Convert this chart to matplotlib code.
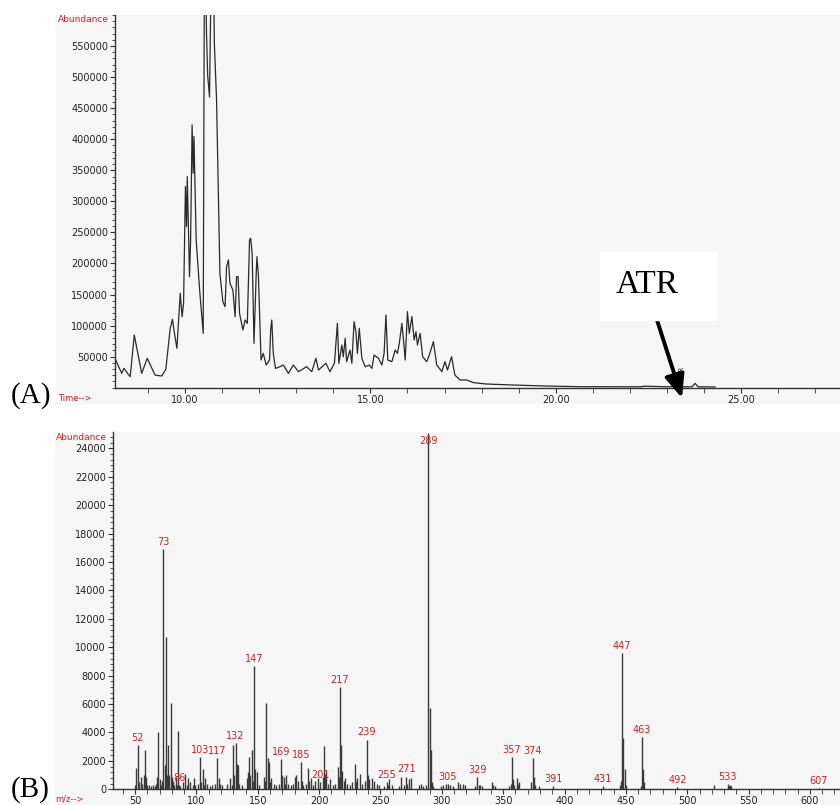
import matplotlib
matplotlib.use("Agg")
import matplotlib.pyplot as plt
from matplotlib.patches import Rectangle
from matplotlib.ticker import MultipleLocator, FormatStrFormatter
import numpy as np

# ---------------------------- data -------------------------------
# (A) total ion chromatogram, time in min, abundance
tic_time = [8.09, 8.29, 8.35, 8.52, 8.63, 8.83, 8.98, 9.19, 9.37, 9.48,
            9.60, 9.66, 9.70, 9.78, 9.87, 9.92, 9.96, 10.01, 10.04, 10.06,
            10.12, 10.15, 10.19, 10.22, 10.24, 10.30, 10.40, 10.49, 10.52, 10.56,
            10.58, 10.61, 10.66, 10.70, 10.77, 10.79, 10.85, 10.90, 10.94, 11.02,
            11.08, 11.12, 11.17, 11.21, 11.29, 11.35, 11.39, 11.43, 11.47, 11.56,
            11.62, 11.68, 11.74, 11.77, 11.81, 11.86, 11.92, 11.94, 11.98, 12.05,
            12.11, 12.19, 12.28, 12.31, 12.34, 12.38, 12.44, 12.56, 12.65, 12.79,
            12.92, 13.06, 13.28, 13.42, 13.53, 13.60, 13.80, 13.91, 14.03, 14.11,
            14.15, 14.23, 14.27, 14.32, 14.36, 14.45, 14.50, 14.56, 14.61, 14.65,
            14.70, 14.77, 14.86, 14.97, 15.04, 15.10, 15.22, 15.31, 15.37, 15.42,
            15.47, 15.58, 15.67, 15.73, 15.78, 15.85, 15.91, 15.94, 16.00, 16.05,
            16.12, 16.18, 16.23, 16.27, 16.34, 16.41, 16.52, 16.59, 16.70, 16.79,
            16.93, 17.01, 17.08, 17.19, 17.28, 17.42, 17.60, 17.78, 18.14, 18.86,
            19.76, 20.66, 21.50, 22.30, 22.40, 23.00, 23.30, 23.38, 23.45, 23.68,
            23.76, 23.84, 24.30]
tic_abund = [49900, 23100, 31100, 17700, 84800, 23100, 47300, 20400, 18800, 29500,
             95600, 110100, 92900, 63400, 152000, 114400, 135900, 323800, 259400, 339900,
             178800, 237900, 423200, 345300, 404400, 237900, 152000, 87500, 650000, 640000,
             568000, 503000, 468000, 650000, 660000, 555000, 463400, 307700, 184200, 138500,
             130500, 194900, 205700, 168100, 157300, 114400, 178800, 178800, 119800, 92900,
             109000, 103600, 237900, 240600, 216400, 71400, 184200, 211000, 178800, 44600,
             55300, 36500, 44600, 92900, 109000, 55300, 31100, 33800, 36500, 23100,
             36500, 25800, 33800, 25800, 47300, 28500, 39200, 25800, 39200, 103600,
             39200, 68700, 49900, 79500, 41900, 60700, 39200, 106300, 90200, 55300,
             95600, 47300, 33800, 36500, 31100, 52600, 47300, 36500, 55300, 117100,
             44600, 41900, 60700, 55300, 71400, 103600, 66100, 44600, 122400, 87500,
             114400, 76800, 90200, 68700, 87500, 49900, 41900, 52600, 74100, 36500,
             25800, 41900, 28500, 49900, 20400, 12400, 12400, 8100, 5900, 4300,
             2700, 1600, 1500, 1500, 2500, 1500, 1800, 3000, 1500, 1500,
             7000, 1500, 1200]

# (B) mass spectrum, m/z and abundance
mz = [50, 51, 52, 53, 55, 56, 57, 58, 59, 60, 61, 63, 65, 66, 67, 68, 69, 70, 71, 72,
      73, 74, 75, 76, 77, 78, 79, 80, 81, 82, 83, 84, 85, 86, 87, 89, 91, 92, 93, 95,
      97, 98, 99, 101, 103, 104, 105, 106, 107, 109, 111, 113, 115, 117, 118, 119, 121, 125, 127, 129,
      130, 131, 132, 133, 134, 135, 137, 141, 142, 143, 144, 145, 146, 147, 148, 149, 151, 155, 156, 157,
      158, 159, 160, 161, 163, 165, 167, 169, 170, 171, 172, 173, 175, 177, 179, 180, 181, 183, 185, 186,
      187, 189, 191, 192, 193, 195, 197, 199, 201, 203, 204, 205, 206, 207, 209, 211, 213, 215, 216, 217,
      218, 219, 220, 221, 223, 225, 227, 229, 230, 231, 233, 235, 237, 239, 240, 241, 243, 245, 247, 249,
      253, 255, 256, 257, 259, 265, 267, 269, 271, 272, 273, 275, 281, 283, 285, 287, 289, 290, 291, 292,
      293, 299, 301, 303, 305, 307, 309, 313, 315, 317, 319, 327, 329, 330, 331, 333, 341, 342, 343, 355,
      356, 357, 358, 359, 361, 362, 363, 373, 374, 375, 376, 379, 391, 431, 445, 446, 447, 448, 449, 450,
      462, 463, 464, 465, 492, 522, 533, 534, 535, 536, 607]
abund = [300, 1500, 3100, 500, 900, 400, 1000, 2800, 900, 300, 300, 200, 300, 200, 400, 900, 4000, 700, 300, 600,
         16900, 1700, 10700, 1000, 3100, 1000, 6050, 900, 600, 300, 900, 300, 4100, 300, 200, 500, 1100, 300, 800, 500,
         300, 800, 300, 400, 2300, 500, 1400, 300, 800, 400, 200, 300, 400, 2200, 800, 400, 300, 400, 800, 300,
         3100, 1000, 3250, 1800, 1700, 400, 300, 800, 1200, 2300, 1000, 2750, 600, 8700, 1400, 1200, 300, 900, 600, 6050,
         2200, 1900, 500, 800, 400, 300, 400, 2100, 1000, 900, 400, 1000, 400, 300, 400, 900, 1000, 600, 1950, 600,
         300, 400, 1500, 600, 800, 300, 600, 800, 500, 900, 3050, 1100, 1200, 400, 700, 300, 400, 1600, 900, 7200,
         3100, 1300, 600, 800, 400, 300, 500, 1800, 600, 800, 1100, 400, 600, 3500, 1000, 700, 800, 600, 400, 300,
         200, 500, 300, 700, 300, 200, 900, 300, 900, 400, 700, 800, 300, 400, 200, 300, 25100, 5750, 2800, 500,
         200, 200, 300, 400, 400, 300, 200, 500, 400, 400, 300, 200, 850, 300, 300, 200, 500, 300, 200, 200,
         400, 2250, 700, 300, 800, 400, 500, 500, 2200, 900, 300, 200, 200, 200, 300, 600, 9600, 3600, 1400, 300,
         200, 3700, 1400, 500, 150, 300, 400, 200, 300, 200, 100]

labelled_mz = [52, 73, 86, 103, 117, 132, 147, 169, 185, 201, 217, 239, 255, 271, 289,
               305, 329, 357, 374, 391, 431, 447, 463, 492, 533, 607]

W, H = 840, 805
red = '#d42020'
txt = '#222222'
panel = '#f6f6f6'


def fr(x, y):
    # pixel -> figure fraction
    return x / W, 1 - y / H


fig = plt.figure(figsize=(8.4, 8.05), dpi=100)

# grey panels behind the axes
fig.patches.append(Rectangle(fr(56, 403), (W - 56) / W, (403 - 15) / H,
                             transform=fig.transFigure, color=panel, zorder=-5))
fig.patches.append(Rectangle(fr(55, 805), (W - 55) / W, (805 - 432) / H,
                             transform=fig.transFigure, color=panel, zorder=-5))


def style(ax):
    ax.set_facecolor(panel)
    for s in ['top', 'right']:
        ax.spines[s].set_visible(False)
    for s in ['left', 'bottom']:
        ax.spines[s].set_color('#333333')
        ax.spines[s].set_linewidth(1.0)
    ax.tick_params(which='both', direction='out', colors='#333333',
                   labelsize=7, labelcolor=txt, pad=1.5)
    ax.tick_params(which='major', length=3.5)
    ax.tick_params(which='minor', length=2.5)
    ax.tick_params(axis='x', which='minor', length=3.5)


# ---------------------------- (A) chromatogram -----------------------------
x0, y0 = fr(115, 387.7)
axA = fig.add_axes([x0, y0, 1 - x0, (387.7 - 15) / H])
style(axA)
axA.plot(tic_time, tic_abund, color='#2a2a2a', lw=0.9)
axA.set_xlim(8.11, 27.67)
axA.set_ylim(0, 600000)
axA.xaxis.set_major_locator(MultipleLocator(5))
axA.xaxis.set_minor_locator(MultipleLocator(1))
axA.xaxis.set_major_formatter(FormatStrFormatter('%.2f'))
axA.yaxis.set_minor_locator(MultipleLocator(10000))
axA.set_yticks([50000 * k for k in range(1, 12)])
axA.text(23.4, 14000, 'ATR', rotation=90, fontsize=5, ha='center', va='bottom',
         color='#222222')

fig.text(*fr(58, 20), 'Abundance', color=red, fontsize=6.5, ha='left', va='center')
fig.text(*fr(58, 398), 'Time-->', color=red, fontsize=6, ha='left', va='center')
fig.text(*fr(11, 396), '(A)', fontsize=21, family='Liberation Serif',
         ha='left', va='center')

# ATR call-out box and arrow
fig.patches.append(Rectangle(fr(600, 320), (717 - 600) / W, (320 - 252) / H,
                             transform=fig.transFigure, color='white', zorder=3))
fig.text(*fr(647, 285), 'ATR', fontsize=24, family='Liberation Serif',
         ha='center', va='center', zorder=4)
fig.add_artist(plt.Annotation('', xy=fr(682, 398), xycoords='figure fraction',
                              xytext=fr(657, 320), textcoords='figure fraction',
                              arrowprops=dict(arrowstyle='-|>,head_length=1.4,head_width=0.6',
                                              color='black', lw=2.8,
                                              shrinkA=0, shrinkB=0)))

# ---------------------------- (B) mass spectrum ----------------------------
x0, y0 = fr(113, 789.3)
axB = fig.add_axes([x0, y0, 1 - x0, (789.3 - 432) / H])
style(axB)
axB.vlines(mz, 0, abund, color='#3a3a3a', lw=1.0)
axB.set_xlim(32, 624.5)
axB.set_ylim(0, 25150)
axB.xaxis.set_minor_locator(MultipleLocator(10))
axB.set_xticks([50 * k for k in range(1, 13)])
axB.yaxis.set_minor_locator(MultipleLocator(400))
axB.set_yticks([2000 * k for k in range(0, 13)])

peak_h = dict(zip(mz, abund))
for m in labelled_mz:
    h = min(peak_h.get(m, 0), 24000)
    axB.annotate(str(m), (m, h), xytext=(0, 1.5), textcoords='offset points',
                 ha='center', va='bottom', color=red, fontsize=7)

fig.text(*fr(56, 437), 'Abundance', color=red, fontsize=6.5, ha='left', va='center')
fig.text(*fr(55, 799), 'm/z-->', color=red, fontsize=6, ha='left', va='center')
fig.text(*fr(11, 803), '(B)', fontsize=21, family='Liberation Serif',
         ha='left', va='bottom')

fig.savefig('out.png', dpi=100)
